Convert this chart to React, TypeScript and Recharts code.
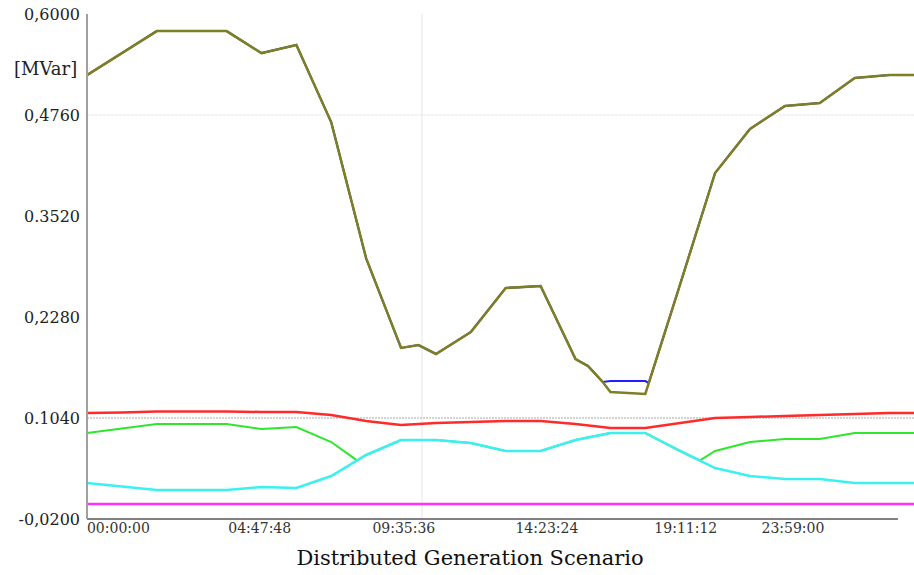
import React from 'react';
import { LineChart, Line, XAxis, YAxis, ReferenceLine } from 'recharts';

// hourly samples over the day
const HOURS = [0, 1, 2, 3, 4, 5, 6, 7, 8, 9, 10, 11, 12, 13, 14, 15, 16, 17, 18, 19, 20, 21, 22, 23, 24];
// the total/blue curves have a few extra sub-hour samples
const TOTAL_HOURS = [0, 1, 2, 3, 4, 5, 6, 7, 8, 9, 9.5, 10, 11, 12, 13, 14, 14.36, 14.78, 15, 16, 17, 18, 19, 20, 21, 22, 23, 24];
const BLUE_HOURS = [0, 1, 2, 3, 4, 5, 6, 7, 8, 9, 9.5, 10, 11, 12, 13, 14, 14.36, 14.78, 15, 16, 16.1, 17, 18, 19, 20, 21, 22, 23, 24];
const GREEN_HOURS = [0, 1, 2, 3, 4, 5, 6, 7, 7.74, 8, 9, 10, 11, 12, 13, 14, 15, 16, 17, 17.56, 18, 19, 20, 21, 22, 23, 24];

const Q_TOTAL = [0.525, 0.552, 0.579, 0.579, 0.579, 0.552, 0.562, 0.467, 0.300, 0.190, 0.1936, 0.1826, 0.2096, 0.2636, 0.266, 0.1764, 0.1678, 0.1482, 0.1359, 0.1335, 0.2685, 0.4048, 0.4588, 0.487, 0.4907, 0.5214, 0.5251, 0.525];
const Q_BLUE = [0.525, 0.552, 0.579, 0.579, 0.579, 0.552, 0.562, 0.467, 0.300, 0.190, 0.1936, 0.1826, 0.2096, 0.2636, 0.266, 0.1764, 0.1678, 0.1482, 0.1494, 0.1494, 0.147, 0.2685, 0.4048, 0.4588, 0.487, 0.4907, 0.5214, 0.5251, 0.525];
const Q_RED = [0.1101, 0.1107, 0.112, 0.112, 0.112, 0.1114, 0.1114, 0.1077, 0.1003, 0.0954, 0.0979, 0.0991, 0.1003, 0.1003, 0.0966, 0.0917, 0.0917, 0.0979, 0.104, 0.1052, 0.1065, 0.1077, 0.1089, 0.1101, 0.1101];
const Q_CYAN = [0.0242, 0.0199, 0.0156, 0.0156, 0.0156, 0.0193, 0.0181, 0.0328, 0.0586, 0.077, 0.077, 0.0733, 0.0635, 0.0635, 0.077, 0.0856, 0.0856, 0.0635, 0.0426, 0.0328, 0.0291, 0.0291, 0.0242, 0.0242, 0.0242];
const Q_GREEN = [0.0856, 0.0911, 0.0966, 0.0966, 0.0966, 0.0905, 0.093, 0.0745, 0.0519, 0.0586, 0.077, 0.077, 0.0733, 0.0635, 0.0635, 0.077, 0.0856, 0.0856, 0.0635, 0.0518, 0.0635, 0.0745, 0.0782, 0.0782, 0.0856, 0.0856, 0.0856];
const Q_MAGENTA = [-0.0016, -0.0016, -0.0016, -0.0016, -0.0016, -0.0016, -0.0016, -0.0016, -0.0016, -0.0016, -0.0016, -0.0016, -0.0016, -0.0016, -0.0016, -0.0016, -0.0016, -0.0016, -0.0016, -0.0016, -0.0016, -0.0016, -0.0016, -0.0016, -0.0016];

const Y_TICKS = [-0.02, 0.104, 0.228, 0.352, 0.476, 0.6];
const Y_LABELS = ['-0,0200', '0.1040', '0,2280', '0.3520', '0,4760', '0,6000'];
const X_TICKS = [0.9, 4.95, 9.08, 13.18, 17.16, 20.23];
const X_LABELS = ['00:00:00', '04:47:48', '09:35:36', '14:23:24', '19:11:12', '23:59:00'];

const FONT = '"DejaVu Serif", serif';

const toRows = (hours: number[], values: number[]) => hours.map((h, i) => ({ h, v: values[i] }));

const series = [
  { name: 'magenta', hours: HOURS, values: Q_MAGENTA, color: '#ff33ff', width: 2.5 },
  { name: 'red', hours: HOURS, values: Q_RED, color: '#ff2a2a', width: 2.5 },
  { name: 'green', hours: GREEN_HOURS, values: Q_GREEN, color: '#2ee62e', width: 2 },
  { name: 'cyan', hours: HOURS, values: Q_CYAN, color: '#3cf0f0', width: 2.5 },
  { name: 'blue', hours: BLUE_HOURS, values: Q_BLUE, color: '#2020ff', width: 2 },
  { name: 'total', hours: TOTAL_HOURS, values: Q_TOTAL, color: '#7e7e22', width: 2.5 },
];

export default function App() {
  return (
    <div style={{ position: 'absolute', left: 0, top: 0, width: 914, height: 575, background: '#fff', fontFamily: FONT, overflow: 'hidden' }}>
      <LineChart width={914} height={575} margin={{ top: 14, right: 0, bottom: 0, left: 0 }}>
        <XAxis
          type="number"
          dataKey="h"
          domain={[0, 23.7]}
          allowDataOverflow
          ticks={X_TICKS}
          interval={0}
          tickFormatter={(v: number) => X_LABELS[X_TICKS.indexOf(v)]}
          axisLine={false}
          tickLine={false}
          tickSize={0}
          tickMargin={4}
          height={56}
          tick={{ fontSize: 14, fill: '#333', fontFamily: FONT }}
        />
        <YAxis
          type="number"
          domain={[-0.02, 0.6]}
          allowDataOverflow
          ticks={Y_TICKS}
          interval={0}
          tickFormatter={(v: number) => Y_LABELS[Y_TICKS.indexOf(v)]}
          width={87}
          axisLine={{ stroke: '#a0a0a0', strokeWidth: 2 }}
          tickLine={false}
          tickSize={0}
          tickMargin={7}
          tick={{ fontSize: 16, fill: '#222', fontFamily: FONT }}
        />
        <ReferenceLine x={9.6} stroke="#e6e6e6" />
        <ReferenceLine y={0.476} stroke="#e6e6e6" strokeDasharray="3 1" />
        <ReferenceLine y={0.104} stroke="#a8a8a8" strokeDasharray="2 1" />
        <ReferenceLine segment={[{ x: 0, y: -0.02 }, { x: 23.24, y: -0.02 }]} stroke="#808080" strokeWidth={2} />
        {series.map((s) => (
          <Line
            key={s.name}
            data={toRows(s.hours, s.values)}
            dataKey="v"
            type="linear"
            stroke={s.color}
            strokeWidth={s.width}
            dot={false}
            activeDot={false}
            isAnimationActive={false}
          />
        ))}
      </LineChart>
      <div style={{ position: 'absolute', left: 14, top: 58, fontSize: 18, color: '#222' }}>[MVar]</div>
      <div style={{ position: 'absolute', left: 0, top: 546, width: 940, textAlign: 'center', fontSize: 21, color: '#111' }}>
        Distributed Generation Scenario
      </div>
    </div>
  );
}
